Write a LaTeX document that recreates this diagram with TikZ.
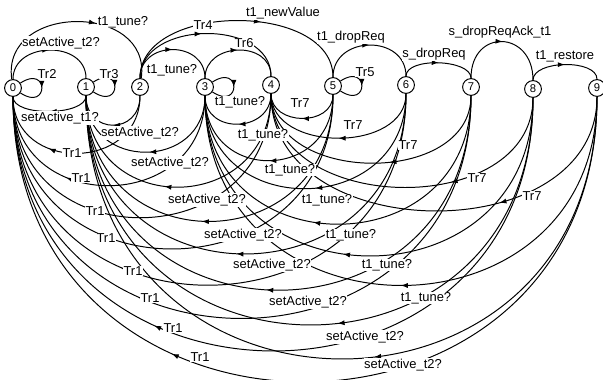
\documentclass[tikz,border=0pt]{standalone}
\usepackage{fontspec}
\setmainfont{Liberation Sans}
\usetikzlibrary{arrows.meta,decorations.markings}

\begin{document}
\begin{tikzpicture}[x=0.025cm, y=-0.025cm,
  state/.style={circle, draw, line width=0.7pt, minimum size=0.42cm, inner sep=0pt, font=\fontsize{8}{9}\selectfont},
  lbl/.style={fill=white, inner sep=0.4pt, font=\fontsize{9.2}{10}\selectfont},
  trans/.style={line width=0.7pt},
  midarr/.style={decoration={markings, mark=at position #1 with {\arrow{Latex[length=5pt,width=3.6pt]}}}, postaction={decorate}},
  midarr/.default=0.5
]
\useasboundingbox (0,0) rectangle (603,380);

\node[state] (s0) at (13,88) {0};
\node[state] (s1) at (86,87) {1};
\node[state] (s2) at (140,87) {2};
\node[state] (s3) at (205,87) {3};
\node[state] (s4) at (271,85) {4};
\node[state] (s5) at (333,86) {5};
\node[state] (s6) at (406,85) {6};
\node[state] (s7) at (471,87) {7};
\node[state] (s8) at (533,89) {8};
\node[state] (s9) at (597,88) {9};

% arcs above
\draw[trans, midarr] (s0) .. controls +(0,-47) and +(0,-47) .. (s1);
\draw[trans, midarr=0.6] (s0) .. controls +(-12,-85) and +(12,-85) .. (s2);
\draw[trans, midarr] (s2) .. controls +(0,-47) and +(0,-47) .. (s3);
\draw[trans, midarr=0.48] (s2) .. controls +(0,-67) and +(0,-67) .. (s4);
\draw[trans, midarr=0.6] (s2) .. controls +(0,-85) and +(0,-85) .. (s5);
\draw[trans, midarr] (s3) .. controls +(0,-45) and +(0,-45) .. (s4);
\draw[trans, midarr] (s5) .. controls +(0,-51) and +(0,-51) .. (s6);
\draw[trans, midarr] (s6) .. controls +(0,-28) and +(0,-28) .. (s7);
\draw[trans, midarr] (s7) .. controls +(0,-59) and +(0,-59) .. (s8);
\draw[trans, midarr] (s8) .. controls +(0,-29) and +(0,-29) .. (s9);

% self loops
\draw[trans, midarr] (s0) .. controls +(36,-24) and +(36,24) .. (s0);
\draw[trans, midarr] (s1) .. controls +(36,-24) and +(36,24) .. (s1);
\draw[trans, midarr] (s3) .. controls +(36,-24) and +(36,24) .. (s3);
\draw[trans, midarr] (s5) .. controls +(36,-24) and +(36,24) .. (s5);

% short arcs below
\draw[trans, midarr] (s1) .. controls +(0,29) and +(0,29) .. (s0);
\draw[trans, midarr] (s2) .. controls +(0,48) and +(0,48) .. (s1);
\draw[trans, midarr] (s4) .. controls +(0,48) and +(0,48) .. (s3);
\draw[trans, midarr] (s5) .. controls +(0,41) and +(0,41) .. (s4);

% back to 0
\draw[trans, midarr=0.65] (s2) .. controls +(0,85) and +(0,85) .. (s0);
\draw[trans, midarr=0.65] (s3) .. controls +(0,128) and +(0,128) .. (s0);
\draw[trans, midarr=0.65] (s4) .. controls +(0,172) and +(0,172) .. (s0);
\draw[trans, midarr=0.65] (s5) .. controls +(0,213) and +(0,213) .. (s0);
\draw[trans, midarr=0.65] (s6) .. controls +(0,262) and +(0,262) .. (s0);
\draw[trans, midarr=0.65] (s7) .. controls +(0,305) and +(0,305) .. (s0);
\draw[trans, midarr=0.65] (s8) .. controls +(0,347) and +(0,347) .. (s0);
\draw[trans, midarr=0.65] (s9) .. controls +(0,389) and +(0,389) .. (s0);

% back to 1
\draw[trans, midarr=0.48] (s3) .. controls +(0,84) and +(0,84) .. (s1);
\draw[trans, midarr=0.55] (s4) .. controls +(0,132) and +(0,132) .. (s1);
\draw[trans, midarr=0.52] (s5) .. controls +(0,177) and +(0,177) .. (s1);
\draw[trans, midarr=0.52] (s6) .. controls +(0,221) and +(0,221) .. (s1);
\draw[trans, midarr=0.52] (s7) .. controls +(0,268) and +(0,268) .. (s1);
\draw[trans, midarr=0.46] (s8) .. controls +(0,313) and +(0,313) .. (s1);
\draw[trans, midarr=0.46] (s9) .. controls +(0,359) and +(0,359) .. (s1);

% back to 3
\draw[trans, midarr] (s5) .. controls +(0,96) and +(0,96) .. (s3);
\draw[trans, midarr=0.47] (s6) .. controls +(0,134) and +(0,134) .. (s3);
\draw[trans, midarr=0.56] (s7) .. controls +(0,180) and +(0,180) .. (s3);
\draw[trans, midarr=0.55] (s8) .. controls +(0,221) and +(0,221) .. (s3);
\draw[trans, midarr] (s9) .. controls +(0,261) and +(0,261) .. (s3);

% back to 4
\draw[trans, midarr] (s6) .. controls +(0,68) and +(0,68) .. (s4);
\draw[trans, midarr=0.43] (s7) .. controls +(0,100) and +(0,100) .. (s4);
\draw[trans, midarr=0.36] (s8) .. controls +(0,131) and +(0,131) .. (s4);
\draw[trans, midarr=0.35] (s9) .. controls +(0,163) and +(0,163) .. (s4);

% labels
\node[lbl] (act01) at (61,43) {setActive\_t2?};
\node[lbl] (tune02) at (123,22) {t1\_tune?};
\node[lbl] (tune23) at (172,70) {t1\_tune?};
\node[lbl] (tr6) at (244,43) {Tr6};
\node[lbl] (tr4) at (203,25) {Tr4};
\node[lbl] (newval) at (283,13) {t1\_newValue};
\node[lbl] (drop56) at (351,37) {t1\_dropReq};
\node[lbl] (drop67) at (434,54) {s\_dropReq};
\node[lbl] (ack78) at (500,32) {s\_dropReqAck\_t1};
\node[lbl] (rest89) at (565,56) {t1\_restore};
\node[lbl] (tr2) at (47,74) {Tr2};
\node[lbl] (tr3) at (109,74) {Tr3};
\node[lbl] (tr5) at (365,72) {Tr5};
\node[lbl] (act10) at (60,118) {setActive\_t1?};

\node[lbl] (tune33) at (240,102) {t1\_tune?};
\node[lbl] (tune43) at (263,135) {t1\_tune?};
\node[lbl] (tune53) at (290,170) {t1\_tune?};
\node[lbl] (tune63) at (327,200) {t1\_tune?};
\node[lbl] (tune73) at (351,235) {t1\_tune?};
\node[lbl] (tune83) at (387,265) {t1\_tune?};
\node[lbl] (tune93) at (426,298) {t1\_tune?};

\node[lbl] (act21) at (140,133) {setActive\_t2?};
\node[lbl] (act31) at (170,163) {setActive\_t2?};
\node[lbl] (act41) at (207,200) {setActive\_t2?};
\node[lbl] (act51) at (243,235) {setActive\_t2?};
\node[lbl] (act61) at (272,265) {setActive\_t2?};
\node[lbl] (act71) at (308,302) {setActive\_t2?};
\node[lbl] (act81) at (365,337) {setActive\_t2?};
\node[lbl] (act91) at (403,365) {setActive\_t2?};

\node[lbl] (tr1a) at (72,153) {Tr1};
\node[lbl] (tr1b) at (81,178) {Tr1};
\node[lbl] (tr1c) at (95,211) {Tr1};
\node[lbl] (tr1d) at (106,238) {Tr1};
\node[lbl] (tr1e) at (133,271) {Tr1};
\node[lbl] (tr1f) at (150,298) {Tr1};
\node[lbl] (tr1g) at (173,328) {Tr1};
\node[lbl] (tr1h) at (200,357) {Tr1};

\node[lbl] (tr7a) at (300,103) {Tr7};
\node[lbl] (tr7b) at (353,125) {Tr7};
\node[lbl] (tr7c) at (408,145) {Tr7};
\node[lbl] (tr7d) at (477,178) {Tr7};
\node[lbl] (tr7e) at (532,196) {Tr7};
\end{tikzpicture}
\end{document}
